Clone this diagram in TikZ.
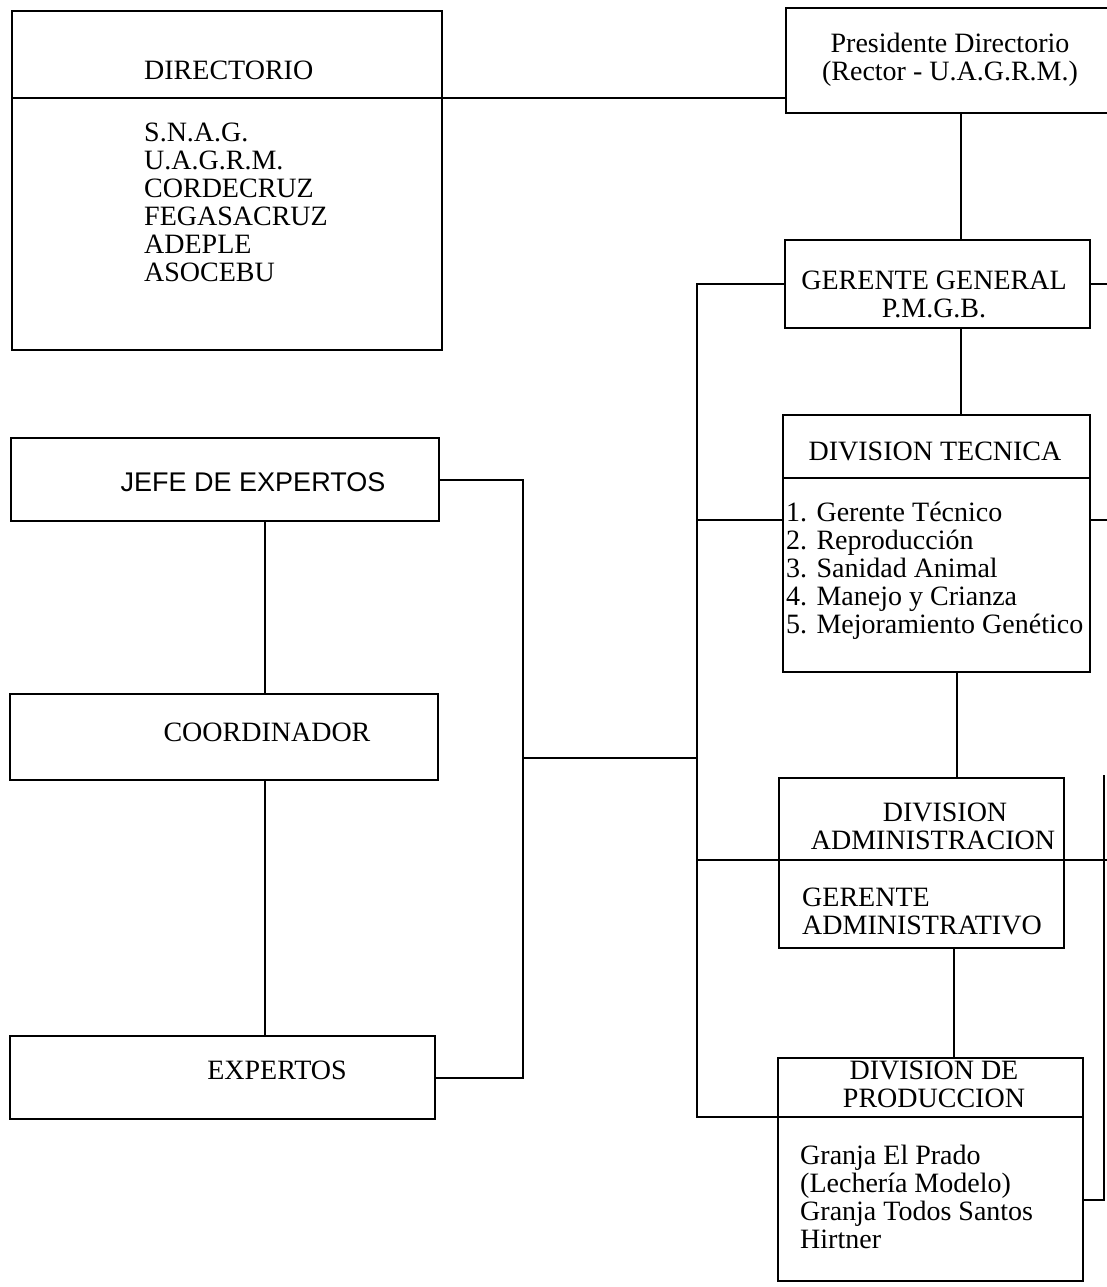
\documentclass[tikz,border=0pt]{standalone}
\usepackage{fontspec}
\setmainfont{Liberation Serif}
\newfontfamily\arialfont{Liberation Sans}
\usepackage{tikz}
\tikzstyle{box}=[draw, line width=2pt, inner sep=0pt, outer sep=0pt]
\tikzstyle{txt}=[inner sep=0pt, font=\fontsize{28}{28}\selectfont]
\tikzstyle{txtlist}=[txt, align=left, anchor=west]
\tikzstyle{conn}=[draw=black, line width=2pt]

\begin{document}
\begin{tikzpicture}[x=1pt, y=-1pt]
	\useasboundingbox (0,0) rectangle (1106,1287);
		   \begin{scope}
			   \node (dir) at (227,180.5)[box, minimum width=430pt, minimum height=339pt] {};
			   \node (pres) at (950.5,60.5)[box, minimum width=329pt, minimum height=105pt] {};
			   \node (gg) at (937.5,284)[box, minimum width=305pt, minimum height=88pt] {};
			   \node (dt) at (936.5,543.5)[box, minimum width=307pt, minimum height=257pt] {};
			   \node (da) at (921.5,863)[box, minimum width=285pt, minimum height=170pt] {};
			   \node (dp) at (930.5,1169.5)[box, minimum width=305pt, minimum height=223pt] {};
			   \node (jefe) at (225,479.5)[box, minimum width=428pt, minimum height=83pt] {};
			   \node (coord) at (224,737)[box, minimum width=428pt, minimum height=86pt] {};
			   \node (exp) at (222.5,1077.5)[box, minimum width=425pt, minimum height=83pt] {};
		   \end{scope}
		   \begin{scope}
			   \node (dirT) at (144,70)[txt, anchor=west] {DIRECTORIO};
			   \node (dirL) at (144,202)[txtlist] {S.N.A.G.\\U.A.G.R.M.\\CORDECRUZ\\FEGASACRUZ\\ADEPLE\\ASOCEBU};
			   \node (presT) at (950,60)[txt, align=center] {Presidente Directorio\\(Rector - U.A.G.R.M.)};
			   \node (ggT) at (934,294)[txt, align=center] {GERENTE GENERAL\\P.M.G.B.};
			   \node (dtT) at (935,451)[txt] {DIVISION TECNICA};
			   \node (dtL) at (786,571)[txtlist] {1. Gerente Técnico\\2. Reproducción\\3. Sanidad Animal\\4. Manejo y Crianza\\5. Mejoramiento Genético};
			   \node (daT1) at (945,812)[txt] {DIVISION};
			   \node (daT2) at (933,840)[txt] {ADMINISTRACION};
			   \node (daL) at (802,911)[txtlist] {GERENTE\\ADMINISTRATIVO};
			   \node (dpT) at (934,1084)[txt, align=center] {DIVISION DE\\PRODUCCION};
			   \node (dpL) at (800,1197)[txtlist] {Granja El Prado\\(Lechería Modelo)\\Granja Todos Santos\\Hirtner};
			   \node (jefeT) at (253,482)[txt, font=\arialfont\fontsize{27}{28}\selectfont] {JEFE DE EXPERTOS};
			   \node (coordT) at (267,732)[txt] {COORDINADOR};
			   \node (expT) at (277,1070)[txt] {EXPERTOS};
		   \end{scope}
		   \begin{scope}
			   \coordinate (bus) at (697,0);
			   \coordinate (lbus) at (523,0);
			   \coordinate (edge) at (1110,0);
			   \coordinate (rv) at (1104,775);
			   \path [conn] (dir.west |- 0,98) edge (pres.west |- 0,98);
			   \path [conn] (pres.south -| 961,0) edge (gg.north -| 961,0);
			   \path [conn] (gg.south -| 961,0) edge (dt.north -| 961,0);
			   \path [conn] (dt.south -| 957,0) edge (da.north -| 957,0);
			   \path [conn] (da.south -| 954,0) edge (dp.north -| 954,0);
			   \path [conn] (dt.west |- 0,478) edge (dt.east |- 0,478);
			   \path [conn] (bus |- 0,520) edge (dt.west |- 0,520);
			   \path [conn] (dt.east |- 0,520) edge (edge |- 0,520);
			   \path [conn] (gg.east) edge (gg.east -| edge);
			   \path [conn] (bus |- 0,860) edge (edge |- 0,860);
			   \draw [conn] (gg.west) -- (gg.west -| bus) -- (bus |- 0,1117) -- (dp.east |- 0,1117);
			   \draw [conn] (dp.east |- 0,1200) -- (rv |- 0,1200) -- (rv);
			   \draw [conn] (jefe.east) -- (jefe.east -| lbus) -- (lbus |- exp.east) -- (exp.east);
			   \path [conn] (lbus |- 0,758) edge (bus |- 0,758);
			   \path [conn] (jefe.south -| 265,0) edge (coord.north -| 265,0);
			   \path [conn] (coord.south -| 265,0) edge (exp.north -| 265,0);
		   \end{scope}
\end{tikzpicture}
\end{document}
